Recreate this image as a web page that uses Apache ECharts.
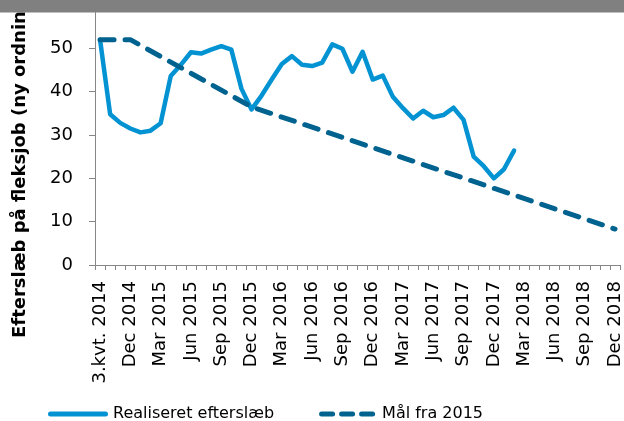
<!DOCTYPE html>
<html>
<head>
<meta charset="utf-8">
<script src="https://cdn.jsdelivr.net/npm/echarts@6/dist/echarts.min.js"></script>
<style>
  html, body { margin: 0; padding: 0; background: #fff; }
  #myChart { width: 624px; height: 421px; }
</style>
</head>
<body>
<div id="myChart"></div>
<script>
const textColor = "#000";
const axisColor = "#868686";
const fontName = "DejaVu Sans";

// måneder fra 3. kvartal 2014 til dec 2018
const months = [
  "3.kvt. 2014", "Oct 2014", "Nov 2014", "Dec 2014",
  "Jan 2015", "Feb 2015", "Mar 2015", "Apr 2015", "May 2015", "Jun 2015",
  "Jul 2015", "Aug 2015", "Sep 2015", "Oct 2015", "Nov 2015", "Dec 2015",
  "Jan 2016", "Feb 2016", "Mar 2016", "Apr 2016", "May 2016", "Jun 2016",
  "Jul 2016", "Aug 2016", "Sep 2016", "Oct 2016", "Nov 2016", "Dec 2016",
  "Jan 2017", "Feb 2017", "Mar 2017", "Apr 2017", "May 2017", "Jun 2017",
  "Jul 2017", "Aug 2017", "Sep 2017", "Oct 2017", "Nov 2017", "Dec 2017",
  "Jan 2018", "Feb 2018", "Mar 2018", "Apr 2018", "May 2018", "Jun 2018",
  "Jul 2018", "Aug 2018", "Sep 2018", "Oct 2018", "Nov 2018", "Dec 2018"
];

// realiseret efterslæb (sep 2014 - feb 2018)
const realiseret = [
  52, 34.8, 32.8, 31.5, 30.6, 31.0, 32.7, 43.6, 46.2, 49.1,
  48.8, 49.7, 50.5, 49.7, 40.7, 35.9, 39.1, 42.8, 46.4, 48.2,
  46.2, 45.9, 46.7, 50.9, 49.9, 44.6, 49.2, 42.8, 43.7, 38.8,
  36.2, 33.8, 35.6, 34.1, 34.6, 36.3, 33.5, 25.0, 22.8, 20.0,
  22.1, 26.4
];

// mål fra 2015 - kun knækpunkterne, resten er null
const maalIdx = [0, 3, 15, 51];
const maalVal = [52, 52, 36.5, 8.3];

const yTicks = [0, 10, 20, 30, 40, 50, 60];

let maal = months.map(() => null);
maalIdx.forEach((idx, i) => { maal[idx] = maalVal[i]; });

// legend-ikoner: hel streg og tre streger
const solidIcon = "path://M2.5,0 L57.5,0 A2.5,2.5 0 0 1 57.5,5 L2.5,5 A2.5,2.5 0 0 1 2.5,0 Z";
const dashIcon = "path://M2.5,0 L13.5,0 A2.5,2.5 0 0 1 13.5,5 L2.5,5 A2.5,2.5 0 0 1 2.5,0 Z " +
  "M22.5,0 L33.5,0 A2.5,2.5 0 0 1 33.5,5 L22.5,5 A2.5,2.5 0 0 1 22.5,0 Z " +
  "M42.5,0 L53.5,0 A2.5,2.5 0 0 1 53.5,5 L42.5,5 A2.5,2.5 0 0 1 42.5,0 Z";

let myChart = echarts.init(document.getElementById("myChart"));

var option = {
  animation: false,
  backgroundColor: "#fff",
  textStyle: { fontFamily: fontName },
  grid: {
    left: 95,
    right: 0,
    top: 5,
    bottom: 156,
    containLabel: false
  },
  legend: {
    left: 48,
    top: 406,
    padding: 0,
    itemWidth: 60,
    itemHeight: 5,
    itemGap: 45,
    textStyle: { color: textColor, fontSize: 16, fontFamily: fontName },
    data: [
      { name: "Realiseret efterslæb", icon: solidIcon },
      { name: "Mål fra 2015", icon: dashIcon }
    ]
  },
  xAxis: {
    type: "category",
    data: months,
    boundaryGap: true,
    axisLine: { lineStyle: { color: axisColor, width: 1 } },
    axisTick: { show: true, interval: 0, length: 5, lineStyle: { color: axisColor } },
    axisLabel: {
      interval: 2,
      rotate: 90,
      margin: 16,
      color: textColor,
      fontSize: 18,
      fontFamily: fontName
    },
    splitLine: { show: false }
  },
  yAxis: {
    type: "value",
    min: yTicks[0],
    max: yTicks[yTicks.length - 1],
    interval: 10,
    axisLine: { show: true, lineStyle: { color: axisColor, width: 1 } },
    axisTick: { show: true, length: 6, lineStyle: { color: axisColor } },
    axisLabel: {
      margin: 22,
      color: textColor,
      fontSize: 18,
      fontFamily: fontName,
      showMaxLabel: false
    },
    splitLine: { show: false }
  },
  series: [
    {
      name: "Realiseret efterslæb",
      type: "line",
      data: realiseret,
      symbol: "none",
      lineStyle: { color: "#0393D3", width: 4.5, join: "round", cap: "round" },
      itemStyle: { color: "#0393D3" }
    },
    {
      name: "Mål fra 2015",
      type: "line",
      data: maal,
      connectNulls: true,
      symbol: "none",
      lineStyle: { color: "#00628F", width: 5, type: [14, 11], cap: "round", join: "round" },
      itemStyle: { color: "#00628F" }
    }
  ],
  graphic: [
    {
      type: "text",
      x: 20,
      y: 338,
      rotation: Math.PI / 2,
      style: {
        text: "Efterslæb på fleksjob (ny ordning)",
        fill: textColor,
        font: "bold 18px 'DejaVu Sans'",
        textAlign: "left",
        textVerticalAlign: "middle"
      }
    },
    {
      type: "rect",
      z: 100,
      shape: { x: 0, y: 0, width: 624, height: 12.5 },
      style: { fill: "#808080" }
    }
  ]
};

myChart.setOption(option);
window.addEventListener("resize", function () {
  myChart.resize();
});
</script>
</body>
</html>
